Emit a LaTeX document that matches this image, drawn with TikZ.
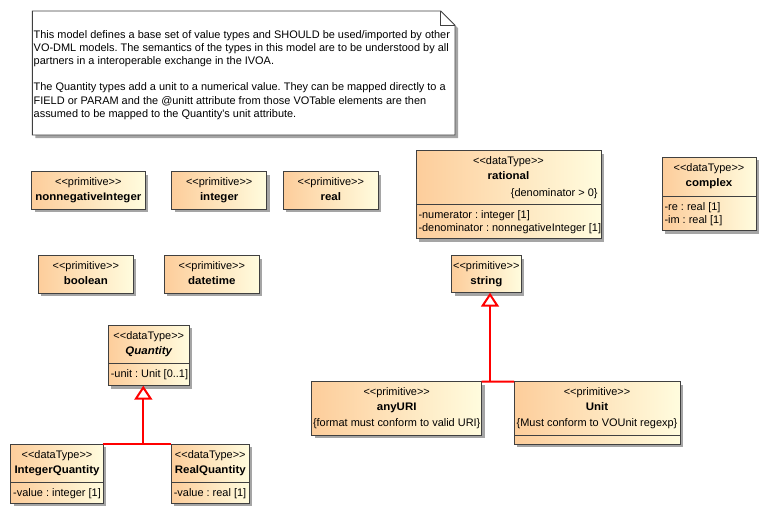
\documentclass[tikz,border=0pt]{standalone}
\usepackage{fontspec}
\setmainfont{Liberation Sans}[Ligatures=TeXOff, BoldFeatures={FakeStretch=1.05}, BoldItalicFeatures={FakeStretch=1.05}]
\usetikzlibrary{arrows.meta,fit,shadows}

\definecolor{boxleft}{RGB}{253,205,155}
\definecolor{boxright}{RGB}{255,252,222}
\definecolor{boxedge}{RGB}{64,64,64}
\definecolor{genred}{RGB}{255,0,0}
\definecolor{shadowgray}{RGB}{165,165,165}

% guillemet-style stereotype brackets kept as plain angle brackets
\newcommand\stereo[1]{<\kern0pt<#1>\kern0pt>}

\tikzset{
  umlbox/.style={draw=boxedge, line width=0.9pt, left color=boxleft, right color=boxright,
    inner sep=0pt, outer sep=0pt,
    drop shadow={shadow xshift=3pt, shadow yshift=-3pt, fill=shadowgray, opacity=1}},
  stxt/.style={anchor=base, inner sep=0pt, font=\fontsize{10.95}{13}\selectfont},
  ntxt/.style={anchor=base, inner sep=0pt, font=\fontsize{10.95}{13}\selectfont\bfseries},
  atxt/.style={anchor=base west, inner sep=0pt, font=\fontsize{10.95}{13}\selectfont},
  ctxt/.style={anchor=base east, inner sep=0pt, font=\fontsize{10.95}{13}\selectfont},
  divider/.style={draw=boxedge, line width=0.9pt},
  gen/.style={draw=genred, line width=2pt, line join=miter},
  genhead/.style={-{Triangle[length=14pt,width=18pt,fill=white]}}
}

\begin{document}
\frenchspacing
\begin{tikzpicture}[x=1pt, y=-1pt]
\useasboundingbox (0,0) rectangle (766,514);

% ---- note with folded corner ----
\fill[shadowgray] (35.3,14) -- (443.7,14) -- (458,28) -- (458,138) -- (35.3,138) -- cycle;
\draw[fill=white, draw=boxedge, line width=0.9pt]
  (32.3,11) -- (440.7,11) -- (455,25.3) -- (455,135) -- (32.3,135) -- cycle;
\draw[boxedge, line width=0.9pt] (440.7,11) -- (440.7,25.3) -- (455,25.3);
\node[atxt] (note1) at (33.5,38.5) {This model defines a base set of value types and SHOULD be used/imported by other};
\node[atxt] (note2) at (33.5,51.6) {VO-DML models. The semantics of the types in this model are to be understood by all};
\node[atxt] (note3) at (33.5,64.7) {partners in a interoperable exchange in the IVOA.};
\node[atxt] (note4) at (33.5,90.9) {The Quantity types add a unit to a numerical value. They can be mapped directly to a};
\node[atxt] (note5) at (33.5,104) {FIELD or PARAM and the @unitt attribute from those VOTable elements are then};
\node[atxt] (note6) at (33.5,117.1) {assumed to be mapped to the Quantity's unit attribute.};

% ---- primitive types, first row ----
\node[umlbox, fit={(31.7,171.7) (145,209.3)}] (nn) {};
\node[stxt] (nn-s) at (nn.center |- 0,185.7) {\stereo{primitive}};
\node[ntxt] (nn-n) at (nn.center |- 0,200.7) {nonnegativeInteger};

\node[umlbox, fit={(171.7,171.7) (266.7,209.3)}] (int) {};
\node[stxt] (int-s) at (int.center |- 0,185.7) {\stereo{primitive}};
\node[ntxt] (int-n) at (int.center |- 0,200.7) {integer};

\node[umlbox, fit={(283.3,171.7) (378.3,209.3)}] (real) {};
\node[stxt] (real-s) at (real.center |- 0,185.7) {\stereo{primitive}};
\node[ntxt] (real-n) at (real.center |- 0,200.7) {real};

% ---- primitive types, second row ----
\node[umlbox, fit={(38.3,255.7) (133.3,293.3)}] (bool) {};
\node[stxt] (bool-s) at (bool.center |- 0,269.7) {\stereo{primitive}};
\node[ntxt] (bool-n) at (bool.center |- 0,284.7) {boolean};

\node[umlbox, fit={(164.3,255.7) (259.3,293.3)}] (dt) {};
\node[stxt] (dt-s) at (dt.center |- 0,269.7) {\stereo{primitive}};
\node[ntxt] (dt-n) at (dt.center |- 0,284.7) {datetime};

\node[umlbox, fit={(451.7,255.7) (521,292.7)}] (str) {};
\node[stxt] (str-s) at (str.center |- 0,269.7) {\stereo{primitive}};
\node[ntxt] (str-n) at (str.center |- 0,284.7) {string};

% ---- rational ----
\node[umlbox, fit={(416,150.7) (601,238.7)}] (rat) {};
\node[stxt] (rat-s) at (rat.center |- 0,164.7) {\stereo{dataType}};
\node[ntxt] (rat-n) at (rat.center |- 0,179.7) {rational};
\node[ctxt] (rat-c) at (597.8,196) {\{denominator > 0\}};
\draw[divider] (rat.west |- 0,204) -- (rat.east |- 0,204);
\node[atxt] (rat-a1) at (418.3,218) {-numerator : integer [1]};
\node[atxt] (rat-a2) at (418.3,231.2) {-denominator : nonnegativeInteger [1]};

% ---- complex ----
\node[umlbox, fit={(662,157) (756,230.5)}] (cx) {};
\node[stxt] (cx-s) at (cx.center |- 0,171) {\stereo{dataType}};
\node[ntxt] (cx-n) at (cx.center |- 0,186) {complex};
\draw[divider] (cx.west |- 0,196) -- (cx.east |- 0,196);
\node[atxt] (cx-a1) at (664.3,210) {-re : real [1]};
\node[atxt] (cx-a2) at (664.3,223.2) {-im : real [1]};

% ---- Quantity hierarchy ----
\node[umlbox, fit={(108.3,325) (189.3,385.7)}] (q) {};
\node[stxt] (q-s) at (q.center |- 0,339) {\stereo{dataType}};
\node[ntxt, font=\fontsize{10.95}{13}\selectfont\bfseries\itshape] (q-n) at (q.center |- 0,354) {Quantity};
\draw[divider] (q.west |- 0,363.3) -- (q.east |- 0,363.3);
\node[atxt] (q-a1) at (110.6,377.3) {-unit : Unit [0..1]};

\node[umlbox, fit={(10.7,444.3) (103.3,503.3)}] (iq) {};
\node[stxt] (iq-s) at (iq.center |- 0,458.3) {\stereo{dataType}};
\node[ntxt] (iq-n) at (iq.center |- 0,473.3) {IntegerQuantity};
\draw[divider] (iq.west |- 0,482.7) -- (iq.east |- 0,482.7);
\node[atxt] (iq-a1) at (13,496.7) {-value : integer [1]};

\node[umlbox, fit={(171.3,444.3) (249.3,503.3)}] (rq) {};
\node[stxt] (rq-s) at (rq.center |- 0,458.3) {\stereo{dataType}};
\node[ntxt] (rq-n) at (rq.center |- 0,473.3) {RealQuantity};
\draw[divider] (rq.west |- 0,482.7) -- (rq.east |- 0,482.7);
\node[atxt] (rq-a1) at (173.6,496.7) {-value : real [1]};

% ---- string specialisations ----
\node[umlbox, fit={(311.7,381.7) (481.7,435)}] (uri) {};
\node[stxt] (uri-s) at (uri.center |- 0,395.7) {\stereo{primitive}};
\node[ntxt] (uri-n) at (uri.center |- 0,410.7) {anyURI};
\node[stxt] (uri-c) at (uri.center |- 0,426.5) {\{format must conform to valid URI\}};

\node[umlbox, fit={(514,381.7) (680,444.3)}] (unit) {};
\node[stxt] (unit-s) at (unit.center |- 0,395.7) {\stereo{primitive}};
\node[ntxt] (unit-n) at (unit.center |- 0,410.7) {Unit};
\node[stxt] (unit-c) at (unit.center |- 0,426.5) {\{Must conform to VOUnit regexp\}};
\draw[divider] (unit.west |- 0,435.7) -- (unit.east |- 0,435.7);

% ---- generalisations ----
\coordinate (qj) at (143.3,444.3);
\draw[gen] (iq.north east) -- (qj) -- (rq.north west);
\draw[gen, genhead] (qj) -- (qj |- q.south);

\coordinate (sj) at (490,381.7);
\draw[gen] (uri.north east) -- (sj) -- (unit.north west);
\draw[gen, genhead] (sj) -- (sj |- str.south);
\end{tikzpicture}
\end{document}
